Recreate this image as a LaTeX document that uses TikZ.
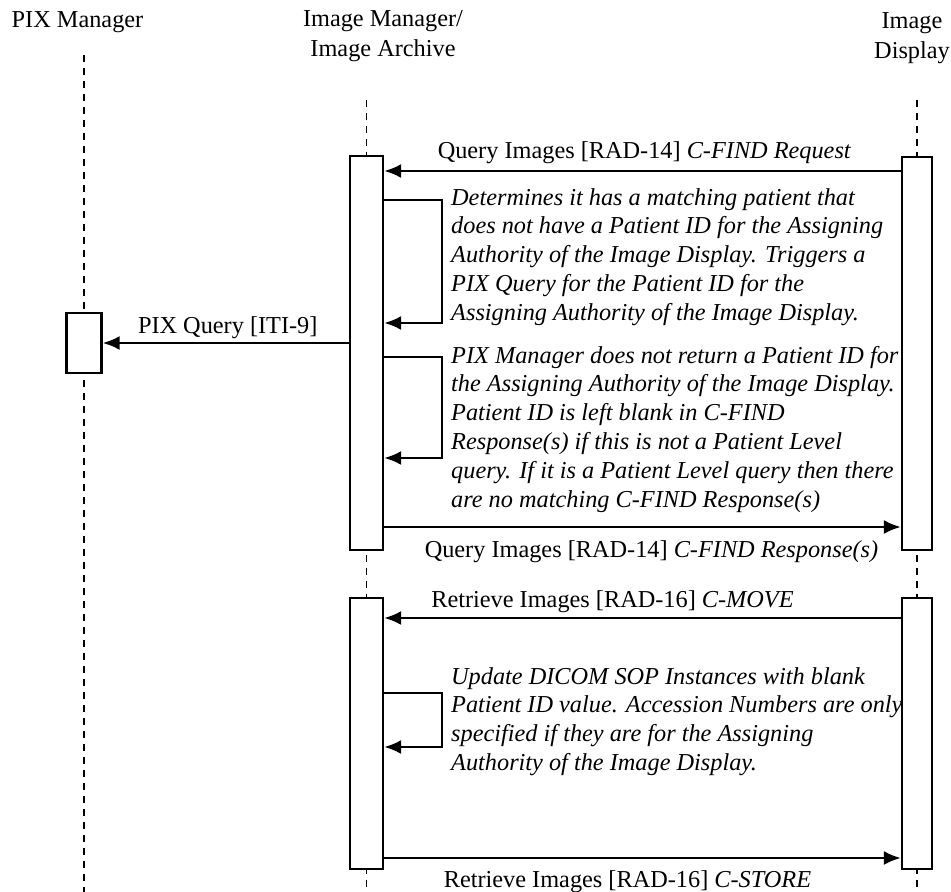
\documentclass[tikz,border=0pt]{standalone}
\usepackage{fontspec}
\setmainfont{Liberation Serif}
\usetikzlibrary{arrows.meta,positioning}
\newcommand{\seqfont}{\fontsize{24.3}{28.8}\selectfont}
\tikzset{
  actor/.style={font=\fontsize{24.3}{30}\selectfont, align=center, anchor=north, inner sep=0pt},
  lifeline/.style={line width=1.7pt, dash pattern=on 6.5pt off 6.5pt},
  actbox/.style={draw, fill=white, line width=2.2pt, inner sep=0pt},
  msg/.style={line width=2.6pt, -{Latex[length=17pt,width=14pt]}},
  note/.style={font=\seqfont\itshape, align=left, anchor=north west, inner sep=0pt},
  every node/.append style={font=\seqfont},
}
\begin{document}
\begin{tikzpicture}[x=1pt, y=-1pt]
	\useasboundingbox (0,0) rectangle (951,892);
	% Actors and lifelines:
	\node[actor] (pix) at (77.5,6) {\strut PIX Manager};
	\node[actor] (ima) at (383,5) {\strut Image Manager/\\Image Archive};
	\node[actor] (disp) at (912,7) {\strut Image\\Display};
	\coordinate (pixTop) at (84,55);
	\coordinate (imaTop) at (366.5,100);
	\coordinate (dispTop) at (917,100);
	\draw[lifeline] (pixTop) -- (pixTop |- 0,892);
	\draw[lifeline] (imaTop) -- (imaTop |- 0,892);
	\draw[lifeline] (dispTop) -- (dispTop |- 0,892);
	% Activation boxes:
	\node[actbox, minimum width=35pt, minimum height=60pt] (pixQ) at (84,343) {};
	\node[actbox, minimum width=33pt, minimum height=394pt] (imaFind) at (366.5,353) {};
	\node[actbox, minimum width=33pt, minimum height=271pt] (imaMove) at (366.5,733.5) {};
	\node[actbox, minimum width=30pt, minimum height=393pt] (dispFind) at (917,353.5) {};
	\node[actbox, minimum width=30pt, minimum height=271pt] (dispMove) at (917,733.5) {};
	% Messages:
	\draw[msg] (dispFind.west |- 0,171) -- node[above=2.5pt, xshift=2pt] {Query Images [RAD-14] \textit{C-FIND Request}} (imaFind.east |- 0,171);
	\draw[msg] (imaFind.east |- 0,200) -- ++(58,0) |- (imaFind.east |- 0,323);
	\node[note] (noteMatch) at (451,184.8) {\strut Determines it has a matching patient that\\
		does not have a Patient ID for the Assigning\\
		Authority of the Image Display. Triggers a\\
		PIX Query for the Patient ID for the\\
		Assigning Authority of the Image Display.};
	\draw[msg] (imaFind.west |- pixQ.east) -- node[above, xshift=2pt] {PIX Query [ITI-9]} (pixQ.east);
	\draw[msg] (imaFind.east |- 0,357) -- ++(58,0) |- (imaFind.east |- 0,458);
	\node[note] (noteBlank) at (451,342.8) {\strut PIX Manager does not return a Patient ID for\\
		the Assigning Authority of the Image Display.\\
		Patient ID is left blank in C-FIND\\
		Response(s) if this is not a Patient Level\\
		query. If it is a Patient Level query then there\\
		are no matching C-FIND Response(s)};
	\draw[msg] (imaFind.east |- 0,527) -- node[below=9pt, xshift=9pt] {Query Images [RAD-14] \textit{C-FIND Response(s)}} (dispFind.west |- 0,527);
	\draw[msg] (dispMove.west |- 0,618) -- node[above=1pt, xshift=-30pt] {Retrieve Images [RAD-16] \textit{C-MOVE}} (imaMove.east |- 0,618);
	\draw[msg] (imaMove.east |- 0,693) -- ++(58,0) |- (imaMove.east |- 0,747);
	\node[note] (noteUpdate) at (451,663.8) {\strut Update DICOM SOP Instances with blank\\
		Patient ID value. Accession Numbers are only\\
		specified if they are for the Assigning\\
		Authority of the Image Display.};
	\draw[msg] (imaMove.east |- 0,858) -- node[below=8pt, xshift=-15pt] {Retrieve Images [RAD-16] \textit{C-STORE}} (dispMove.west |- 0,858);
\end{tikzpicture}
\end{document}
